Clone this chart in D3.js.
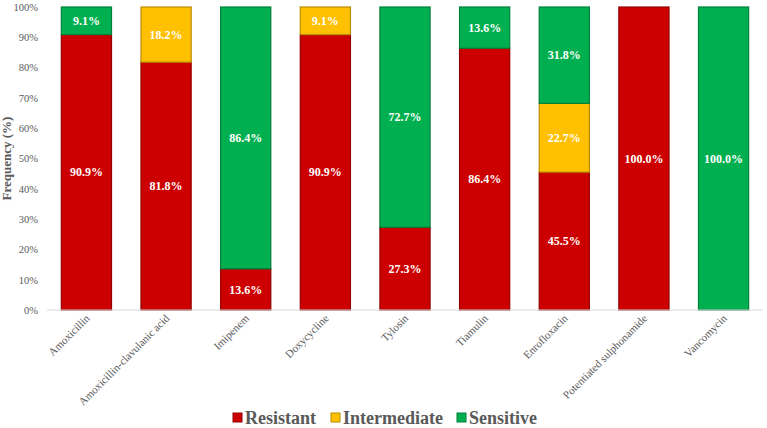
<!DOCTYPE html>
<html>
<head>
<meta charset="utf-8">
<script src="https://cdn.jsdelivr.net/npm/d3@7"></script>
<style>
  body { margin: 0; background: #fff; }
  svg text { font-family: 'Liberation Serif', 'Times New Roman', Times, serif !important; }
</style>
</head>
<body>
<div id="chart-area"></div>
<script>
// drug names along x
var drugs = ['Amoxicillin', 'Amoxicillin-clavulanic acid', 'Imipenem', 'Doxycycline',
	'Tylosin', 'Tiamulin', 'Enrofloxacin', 'Potentiated sulphonamide', 'Vancomycin'];

var resistant    = [90.9, 81.8, 13.6, 90.9, 27.3, 86.4, 45.5, 100, 0];
var intermediate = [0, 18.2, 0, 9.1, 0, 0, 22.7, 0, 0];
var sensitive    = [9.1, 0, 86.4, 0, 72.7, 13.6, 31.8, 0, 100];

var seriesNames = ['Resistant', 'Intermediate', 'Sensitive'];
var seriesColors = ['#CC0000', '#FFC000', '#00B050'];
var yTicks = [0, 10, 20, 30, 40, 50, 60, 70, 80, 90, 100];

var FONT = "'Liberation Serif', 'Times New Roman', serif";

var W = 767, H = 428;
var margin = { left: 47, top: 7, right: 4, bottom: 118 };
var width = W - margin.left - margin.right,
	height = H - margin.top - margin.bottom;

var svg = d3.select('#chart-area').append('svg')
	.attr('width', W).attr('height', H)
	.attr('font-family', FONT);
var g = svg.append('g')
	.attr('transform', 'translate(' + margin.left + ',' + margin.top + ')');

var rows = drugs.map((d, i) => ({
	drug: d, Resistant: resistant[i], Intermediate: intermediate[i], Sensitive: sensitive[i]
}));
var stack = d3.stack().keys(seriesNames)(rows);

var x = d3.scaleBand().domain(drugs).range([0, width]).paddingInner(0.37).paddingOuter(0.18);
var y = d3.scaleLinear().domain([0, 100]).range([height, 0]);
var color = d3.scaleOrdinal().domain(seriesNames).range(seriesColors);

// y axis
var yAxis = g.append('g')
	.call(d3.axisLeft(y).tickValues(yTicks).tickFormat(d => d + '%').tickSize(0).tickPadding(9))
	.attr('font-family', FONT);
yAxis.select('.domain').remove();
yAxis.selectAll('text').attr('font-size', '10.5px').attr('fill', '#595959');

// bars
var layers = g.selectAll('.layer').data(stack).enter().append('g')
	.attr('class', 'layer');

layers.selectAll('rect').data(s => s.map(d => Object.assign({ key: s.key }, d)))
	.enter().append('rect')
	.filter(d => d[1] - d[0] > 0)
	.attr('x', d => x(d.data.drug))
	.attr('y', d => y(d[1]))
	.attr('width', x.bandwidth())
	.attr('height', d => y(d[0]) - y(d[1]))
	.attr('fill', d => color(d.key))
	.attr('stroke', d => d3.color(color(d.key)).darker(0.9))
	.attr('stroke-width', 1.2);

// data labels
layers.selectAll('.lbl').data(s => s.map(d => Object.assign({ key: s.key }, d)))
	.enter().append('text')
	.filter(d => d[1] - d[0] > 0)
	.attr('class', 'lbl')
	.attr('x', d => x(d.data.drug) + x.bandwidth() / 2)
	.attr('y', d => y((d[0] + d[1]) / 2))
	.attr('dy', '0.35em')
	.attr('text-anchor', 'middle')
	.attr('font-size', '12px')
	.attr('font-weight', 'bold')
	.attr('fill', '#fff')
	.text(d => (d[1] - d[0]).toFixed(1) + '%');

// baseline
g.append('line')
	.attr('x1', 0).attr('x2', width)
	.attr('y1', height).attr('y2', height)
	.attr('stroke', '#d9d9d9');

// x labels
g.append('g').selectAll('text').data(drugs).enter().append('text')
	.attr('transform', d => 'translate(' + (x(d) + x.bandwidth() / 2 + 4) + ',' + (height + 9) + ') rotate(-45)')
	.attr('text-anchor', 'end')
	.attr('font-size', '11px')
	.attr('fill', '#595959')
	.text(d => d);

// y title
g.append('text')
	.attr('transform', 'translate(' + (-36) + ',' + (height / 2) + ') rotate(-90)')
	.attr('text-anchor', 'middle')
	.attr('font-size', '13px')
	.attr('font-weight', 'bold')
	.attr('fill', '#595959')
	.text('Frequency (%)');

// legend
var legendX = [233, 331, 457];
var legend = svg.append('g').selectAll('g').data(seriesNames).enter().append('g')
	.attr('transform', (d, i) => 'translate(' + legendX[i] + ',418)');
legend.append('rect')
	.attr('x', 0).attr('y', -5).attr('width', 9).attr('height', 9)
	.attr('fill', d => color(d))
	.attr('stroke', d => d3.color(color(d)).darker(0.9));
legend.append('text')
	.attr('x', 12).attr('y', 0).attr('dy', '0.35em')
	.attr('font-size', '18px')
	.attr('font-weight', 'bold')
	.attr('fill', '#595959')
	.text(d => d);
</script>
</body>
</html>
